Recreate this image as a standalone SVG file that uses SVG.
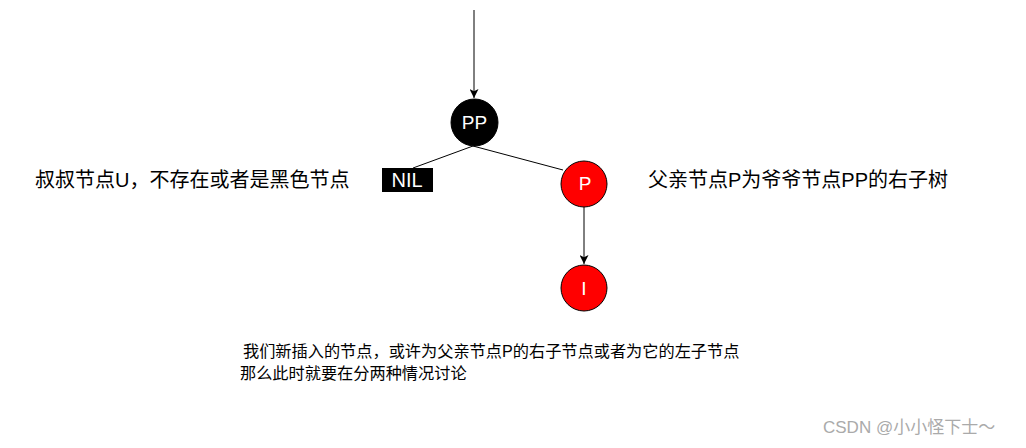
<svg xmlns="http://www.w3.org/2000/svg" width="1026" height="448" viewBox="0 0 1026 448">
<style>
.lbl{font-family:"Liberation Sans","Noto Sans CJK SC",sans-serif;fill:#000}
.nt{font-family:"Liberation Sans",sans-serif;fill:#fff;text-anchor:middle}
.edge{stroke:#000;stroke-width:1;fill:none}
</style>
<defs>
<marker id="arr" viewBox="0 0 10 10" refX="10" refY="5" markerWidth="9" markerHeight="9" markerUnits="userSpaceOnUse" orient="auto">
<path d="M0,0 L10,5 L0,10 L2.5,5 z" fill="#000"/>
</marker>
</defs>
<rect width="1026" height="448" fill="#fff"/>
<g id="connectors">
<line class="edge" x1="474" y1="10" x2="474" y2="98" marker-end="url(#arr)"/>
<line class="edge" x1="473" y1="146" x2="413" y2="168"/>
<line class="edge" x1="473" y1="146" x2="563" y2="170"/>
<line class="edge" x1="584" y1="207" x2="584" y2="264" marker-end="url(#arr)"/>
</g>
<g id="node-PP">
<circle cx="474.5" cy="122.5" r="23.5" fill="#000" stroke="#000"/>
<text class="nt" x="474.5" y="129" font-size="19">PP</text>
</g>
<g id="node-NIL">
<rect x="382" y="168" width="51" height="24" fill="#000"/>
<text class="nt" x="407" y="187" font-size="20">NIL</text>
</g>
<g id="node-P">
<circle cx="584" cy="184" r="23" fill="#f00" stroke="#000"/>
<text class="nt" x="585" y="190" font-size="19">P</text>
</g>
<g id="node-I">
<circle cx="584" cy="288" r="23" fill="#f00" stroke="#000"/>
<text class="nt" x="584" y="295" font-size="19">I</text>
</g>
<g id="label-uncle">
<text class="lbl" x="35" y="187" font-size="20">叔叔节点U，不存在或者是黑色节点</text>
</g>
<g id="label-parent">
<text class="lbl" x="648" y="187" font-size="20">父亲节点P为爷爷节点PP的右子树</text>
</g>
<g id="label-insert">
<text class="lbl" x="243" y="357" font-size="16.2">我们新插入的节点，或许为父亲节点P的右子节点或者为它的左子节点</text>
<text class="lbl" x="240" y="379" font-size="16.2">那么此时就要在分两种情况讨论</text>
</g>
<text x="823" y="433" font-size="17" font-family="Liberation Sans,Noto Sans CJK SC,sans-serif" fill="#aaa">CSDN @小小怪下士～</text>
</svg>
